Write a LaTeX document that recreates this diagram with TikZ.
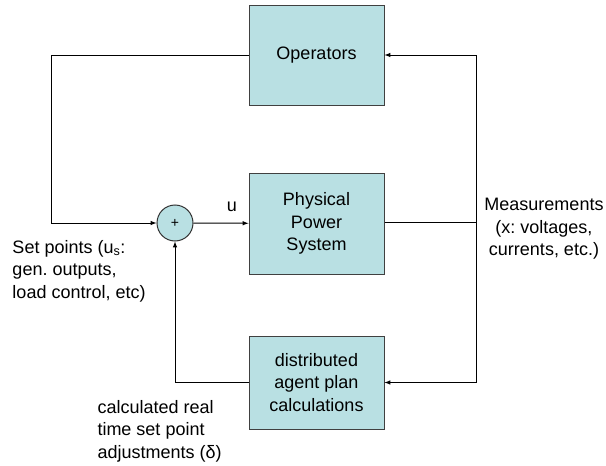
\documentclass[tikz,border=0pt]{standalone}
\usepackage{fontspec}
\setmainfont{Liberation Sans}
\usepackage{tikz}
\usetikzlibrary{shapes,arrows}
\definecolor{boxfill}{RGB}{185,224,227}
\tikzset{
	block/.style    = {draw = black!75, fill = boxfill, line width = 1pt, rectangle,
		minimum width = 135pt, align = center},
	sum/.style      = {draw = black!80, fill = boxfill, line width = 1pt, circle,
		minimum size = 36pt, inner sep = 0pt, font = \fontsize{14}{16}\selectfont},
	lbl/.style      = {inner sep = 0pt}
}
\newcommand{\bigtext}{\fontsize{18}{22.5}\selectfont\frenchspacing}

\begin{document}
\begin{tikzpicture}[auto, line width=1pt, >=latex, x=1pt, y=-1pt, font=\bigtext]
	\useasboundingbox (0,0) rectangle (606,466);

	\draw
	node at (316.5,55) [block, minimum height = 100pt] (ops) {Operators}
	node at (316.5,223.5) [block, minimum height = 101pt] (pps) {Physical\\Power\\System}
	node at (316.5,382.5) [block, minimum height = 93pt] (dap) {distributed\\agent plan\\calculations}
	node at (175,223) [sum] (s1) {+};

	\coordinate (c1) at (51,55);
	\coordinate (m1) at (476,222);

	\node[lbl] at (232,207) (u) {u};
	\node[lbl, anchor = west, align = left] at (12,271) (setp)
		{Set points (u\textsubscript{s}:\\gen. outputs,\\load control, etc)};
	\node[lbl, align = center] at (544,229) (meas)
		{Measurements\\(x: voltages,\\ currents, etc.)};
	\node[lbl, anchor = west, align = left] at (97,431) (calc)
		{calculated real\\time set point\\adjustments (δ)};

	\draw(ops.west) -- (c1);
	\draw[->](c1) |- (s1.west);
	\draw[->](s1) -- (pps);
	\draw(pps.east |- m1) -- (m1);
	\draw[->](m1) |- (ops.east);
	\draw[->](m1) |- (dap.east);
	\draw[->](dap.west) -| (s1.south);

\end{tikzpicture}
\end{document}
